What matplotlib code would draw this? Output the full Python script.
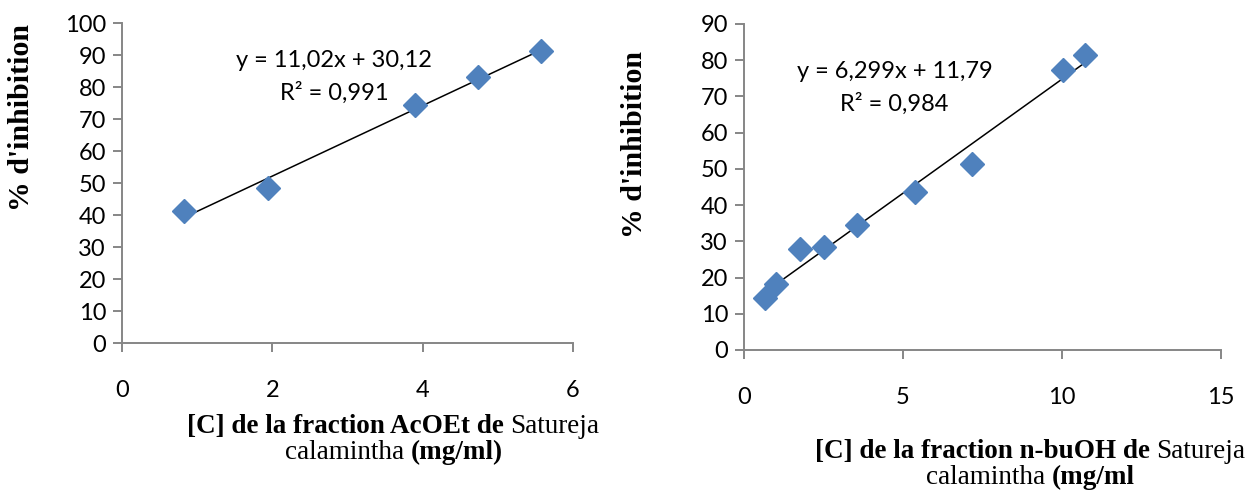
import numpy as np
import matplotlib
matplotlib.use('Agg')
import matplotlib.pyplot as plt

# AcOEt fraction
x_acoet = [0.82, 1.94, 3.90, 4.74, 5.57]
y_acoet = [41.3, 48.4, 74.4, 83.1, 91.2]
fit_acoet = (11.02, 30.12)

# n-buOH fraction
x_buoh = [0.66, 1.0, 1.76, 2.5, 3.55, 5.38, 7.17, 10.03, 10.72]
y_buoh = [14.4, 18.2, 27.9, 28.4, 34.5, 43.6, 51.4, 77.3, 81.4]
fit_buoh = (6.299, 11.79)

W, H = 1256, 492
fig = plt.figure(figsize=(W / 100, H / 100), dpi=100)
renderer = fig.canvas.get_renderer()

grey = '#868686'
blue = '#4F81BD'
tickfont = 'Lato'
serif = 'Liberation Serif'
labsize = 19.5


def box(x0, y0, x1, y1):
    # pixel box (top-left origin) -> figure fraction
    return [x0 / W, 1 - y1 / H, (x1 - x0) / W, (y1 - y0) / H]


def setup(ax, xmax, xstep, ymax):
    ax.set_xlim(0, xmax)
    ax.set_ylim(0, ymax)
    ax.set_xticks(np.arange(0, xmax + 0.1, xstep))
    ax.set_yticks(np.arange(0, ymax + 1, 10))
    for s in ['top', 'right']:
        ax.spines[s].set_visible(False)
    for s in ['left', 'bottom']:
        ax.spines[s].set_color(grey)
        ax.spines[s].set_linewidth(1.4)
    ax.tick_params(axis='both', color=grey, width=1.4, length=6.5,
                   labelsize=17)
    ax.tick_params(axis='x', pad=20)
    ax.tick_params(axis='y', pad=5)
    for lab in ax.get_xticklabels() + ax.get_yticklabels():
        lab.set_family(tickfont)


def trend(ax, xs, ys, fit):
    a, b = fit
    xl = np.array([min(xs), max(xs)])
    ax.plot(xl, a * xl + b, color='black', lw=1.1, zorder=2)
    ax.plot(xs, ys, linestyle='none', marker='D', markersize=12,
            color=blue, zorder=3, clip_on=False)


def words_line(cx, y0, words):
    # words: list of (text, bold); baseline at y0 px, centred on cx px
    arts = []
    for txt, bold in words:
        t = fig.text(0, 1 - y0 / H, txt, ha='left', va='baseline',
                     fontsize=labsize, family=serif,
                     fontweight='bold' if bold else 'normal')
        arts.append(t)
    widths = [a.get_window_extent(renderer).width for a in arts]
    gap = labsize * 100 / 72 * 0.25
    total = sum(widths) + gap * (len(arts) - 1)
    x = cx - total / 2
    for a, w in zip(arts, widths):
        a.set_x(x / W)
        x += w + gap


ax1 = fig.add_axes(box(122, 23, 573, 343))
setup(ax1, 6, 2, 100)
trend(ax1, x_acoet, y_acoet, fit_acoet)
ax1.text(0.47, 0.883, 'y = 11,02x + 30,12', transform=ax1.transAxes,
         ha='center', va='center', fontsize=17, family=tickfont)
ax1.text(0.47, 0.783, 'R² = 0,991', transform=ax1.transAxes,
         ha='center', va='center', fontsize=17, family=tickfont)

ax2 = fig.add_axes(box(744, 24, 1221, 350))
setup(ax2, 15, 5, 90)
trend(ax2, x_buoh, y_buoh, fit_buoh)
ax2.text(0.317, 0.853, 'y = 6,299x + 11,79', transform=ax2.transAxes,
         ha='center', va='center', fontsize=17, family=tickfont)
ax2.text(0.315, 0.755, 'R² = 0,984', transform=ax2.transAxes,
         ha='center', va='center', fontsize=17, family=tickfont)

fig.text(22 / W, 1 - 117.5 / H, "% d'inhibition", rotation=90, ha='center',
         va='center', fontsize=21.5, fontweight='bold', family=serif)
fig.text(634 / W, 1 - 144 / H, "% d'inhibition", rotation=90, ha='center',
         va='center', fontsize=21.5, fontweight='bold', family=serif)

line1_left = [('[C] de la fraction AcOEt de', True), ('Satureja', False)]
line1_right = [('[C] de la fraction n-buOH de', True), ('Satureja', False)]

words_line(393, 433, line1_left)
words_line(394, 459, [('calamintha', False), ('(mg/ml)', True)])
words_line(1030, 458, line1_right)
words_line(1030, 484, [('calamintha', False), ('(mg/ml', True)])

fig.savefig('out.png', dpi=100)
